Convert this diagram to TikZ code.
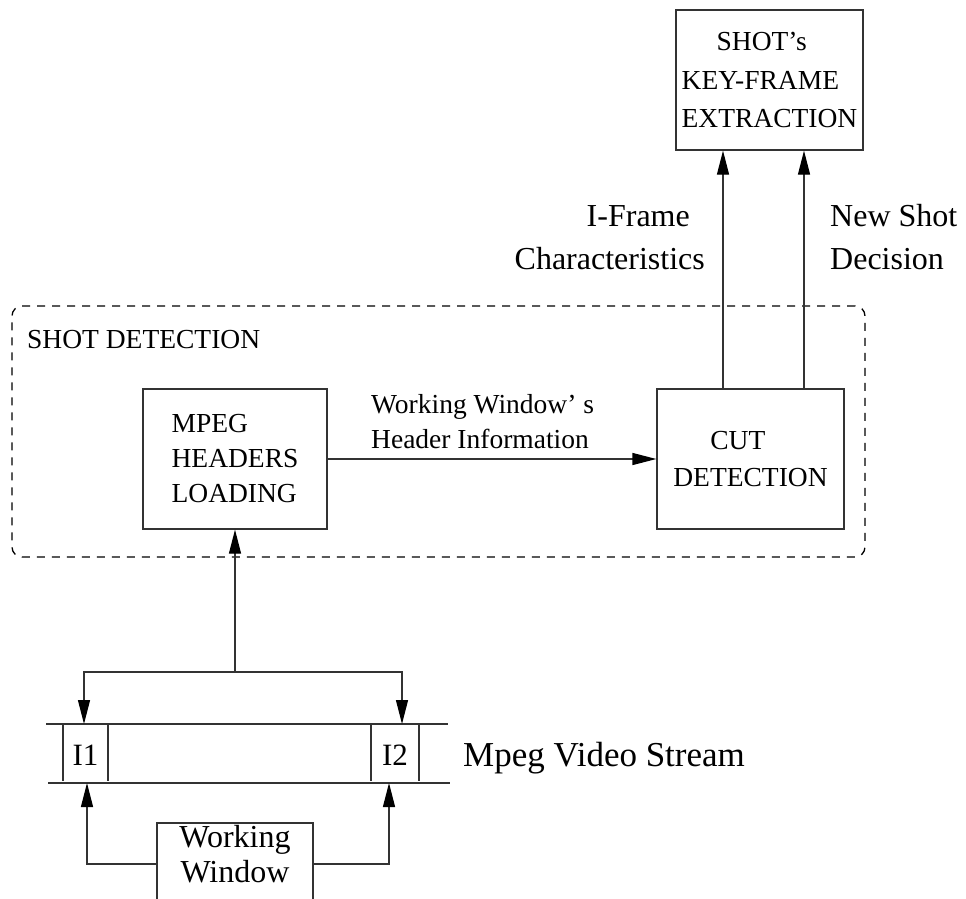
\documentclass[tikz,border=0pt]{standalone}
\usepackage{fontspec}
\setmainfont{Liberation Serif}
\usetikzlibrary{arrows.meta,calc}
\begin{document}
\begin{tikzpicture}[x=1pt,y=-1pt,
  line/.style={draw=black!80, line width=1.3pt},
  arr/.style={line, -{Triangle[length=24pt,width=12pt,color=black,fill=black]}},
  box/.style={line, rectangle, inner sep=0pt},
  frame/.style={draw=black, line width=1.3pt, dash pattern=on 8pt off 7pt,
                rounded corners=10pt, rectangle, inner sep=0pt},
  boxtext/.style={font=\fontsize{27.5}{35}\selectfont},
  bigtext/.style={font=\fontsize{32}{43}\selectfont},
  txt/.style={inner sep=0pt, anchor=base west},
]
\useasboundingbox (0,0) rectangle (966,899);
\clip (0,0) rectangle (966,899);
\fill[white] (0,0) rectangle (966,899);

% shot detection group
\node[frame, minimum width=853pt, minimum height=251pt] (group) at (438.5,431.5) {};
\node[txt, boxtext] (grouptitle) at (27,348) {SHOT DETECTION};

% processing blocks
\node[box, boxtext, align=left, minimum width=184pt, minimum height=140pt]
  (mpeg) at (235,459) {MPEG\\HEADERS\\LOADING};
\node[box, align=left, font=\fontsize{27.5}{37}\selectfont,
      minimum width=187pt, minimum height=140pt]
  (cut) at (750.5,459) {\hspace*{37pt}CUT\\DETECTION};
\node[box, align=left, font=\fontsize{27.5}{38.5}\selectfont,
      minimum width=187pt, minimum height=140pt]
  (key) at (769.5,80) {\hspace*{35pt}SHOT’s\\KEY-FRAME\\EXTRACTION};

% header information flow
\draw[arr] (mpeg.east) -- (cut.west);
\node[txt, boxtext] (hdr1) at (371,413) {Working Window’ s};
\node[txt, boxtext] (hdr2) at (371,448) {Header Information};

% outputs of cut detection
\coordinate (xa) at (723,0);
\coordinate (xb) at (804,0);
\draw[arr] (cut.north -| xa) -- (key.south -| xa);
\draw[arr] (cut.north -| xb) -- (key.south -| xb);
\node[inner sep=0pt, anchor=base east, bigtext] (if1) at (690,226) {I-Frame};
\node[inner sep=0pt, anchor=base east, bigtext] (if2) at (705,269) {Characteristics};
\node[txt, bigtext] (ns1) at (830,226) {New Shot};
\node[txt, bigtext] (ns2) at (830,269) {Decision};

% video stream
\coordinate (st1) at (46,724);  \coordinate (st2) at (448,724);
\coordinate (sb1) at (48,783);  \coordinate (sb2) at (450,783);
\draw[line] (st1) -- (st2);
\draw[line] (sb1) -- (sb2);
\foreach \xd in {63,108,371,419}
  \draw[line] (\xd,725) -- (\xd,781);
\node[inner sep=0pt, anchor=base, font=\fontsize{31}{35}\selectfont] (i1) at (85.5,765) {I1};
\node[inner sep=0pt, anchor=base, font=\fontsize{31}{35}\selectfont] (i2) at (395,765) {I2};
\node[txt, font=\fontsize{35}{43}\selectfont] (stream) at (463,766) {Mpeg Video Stream};

% header loading from the stream
\coordinate (split) at (235,672);
\coordinate (in1) at (84,724);
\coordinate (in2) at (402,724);
\draw[arr] (split) -- (mpeg.south);
\draw[arr] (split) -| (in1);
\draw[arr] (split) -| (in2);

% working window
\node[box, minimum width=156pt, minimum height=82pt] (ww) at (235,864) {};
\node[inner sep=0pt, anchor=base, bigtext] (ww1) at (235,847) {Working};
\node[inner sep=0pt, anchor=base, bigtext] (ww2) at (235,882) {Window};
\coordinate (out1) at (87,783);
\coordinate (out2) at (389,783);
\draw[arr] (ww.west) -| (out1);
\draw[arr] (ww.east) -| (out2);
\end{tikzpicture}
\end{document}
